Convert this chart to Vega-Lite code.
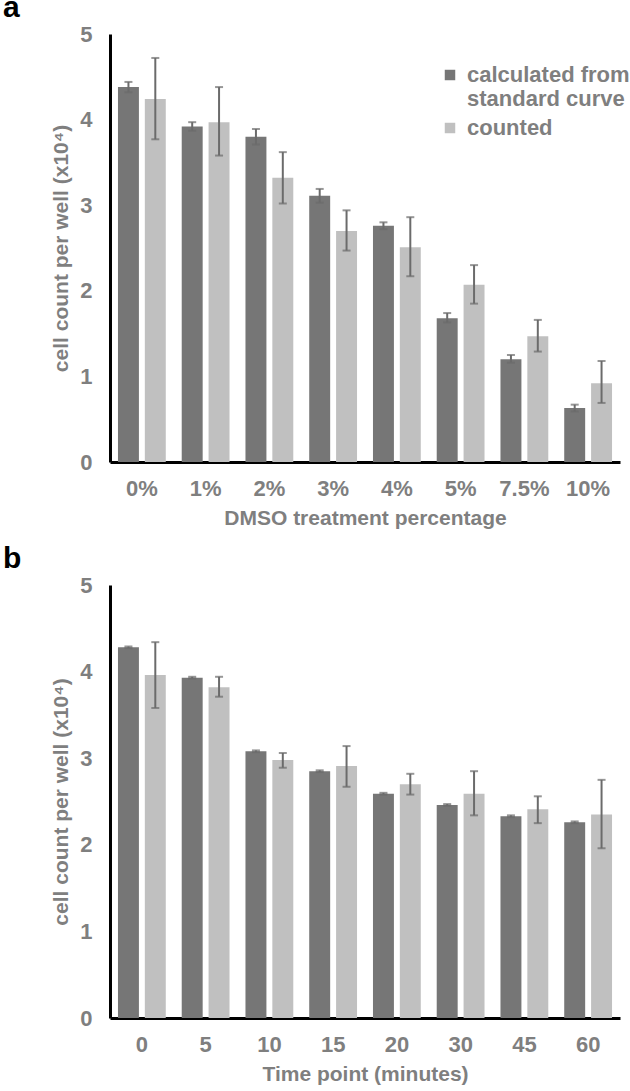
{
  "$schema": "https://vega.github.io/schema/vega-lite/v6.json",
  "background": "white",
  "padding": {"left": 3, "top": -7, "right": 5, "bottom": 3},
  "datasets": {
    "dmso": [
      {"cat": "0%", "series": "calculated from standard curve", "value": 4.38, "lo": 4.32, "hi": 4.44},
      {"cat": "0%", "series": "counted", "value": 4.24, "lo": 3.77, "hi": 4.72},
      {"cat": "1%", "series": "calculated from standard curve", "value": 3.92, "lo": 3.87, "hi": 3.97},
      {"cat": "1%", "series": "counted", "value": 3.97, "lo": 3.58, "hi": 4.38},
      {"cat": "2%", "series": "calculated from standard curve", "value": 3.8, "lo": 3.71, "hi": 3.89},
      {"cat": "2%", "series": "counted", "value": 3.32, "lo": 3.02, "hi": 3.62},
      {"cat": "3%", "series": "calculated from standard curve", "value": 3.11, "lo": 3.03, "hi": 3.19},
      {"cat": "3%", "series": "counted", "value": 2.7, "lo": 2.47, "hi": 2.94},
      {"cat": "4%", "series": "calculated from standard curve", "value": 2.76, "lo": 2.72, "hi": 2.8},
      {"cat": "4%", "series": "counted", "value": 2.51, "lo": 2.17, "hi": 2.86},
      {"cat": "5%", "series": "calculated from standard curve", "value": 1.68, "lo": 1.63, "hi": 1.74},
      {"cat": "5%", "series": "counted", "value": 2.07, "lo": 1.85, "hi": 2.3},
      {"cat": "7.5%", "series": "calculated from standard curve", "value": 1.2, "lo": 1.16, "hi": 1.25},
      {"cat": "7.5%", "series": "counted", "value": 1.47, "lo": 1.29, "hi": 1.66},
      {"cat": "10%", "series": "calculated from standard curve", "value": 0.63, "lo": 0.59, "hi": 0.67},
      {"cat": "10%", "series": "counted", "value": 0.92, "lo": 0.69, "hi": 1.18}
    ],
    "time": [
      {"cat": "0", "series": "calculated from standard curve", "value": 4.28, "lo": 4.27, "hi": 4.29},
      {"cat": "0", "series": "counted", "value": 3.96, "lo": 3.58, "hi": 4.34},
      {"cat": "5", "series": "calculated from standard curve", "value": 3.93, "lo": 3.92, "hi": 3.94},
      {"cat": "5", "series": "counted", "value": 3.82, "lo": 3.71, "hi": 3.94},
      {"cat": "10", "series": "calculated from standard curve", "value": 3.08, "lo": 3.07, "hi": 3.09},
      {"cat": "10", "series": "counted", "value": 2.98, "lo": 2.89, "hi": 3.06},
      {"cat": "15", "series": "calculated from standard curve", "value": 2.85, "lo": 2.84, "hi": 2.86},
      {"cat": "15", "series": "counted", "value": 2.91, "lo": 2.67, "hi": 3.14},
      {"cat": "20", "series": "calculated from standard curve", "value": 2.59, "lo": 2.58, "hi": 2.6},
      {"cat": "20", "series": "counted", "value": 2.7, "lo": 2.58, "hi": 2.82},
      {"cat": "30", "series": "calculated from standard curve", "value": 2.46, "lo": 2.45, "hi": 2.47},
      {"cat": "30", "series": "counted", "value": 2.59, "lo": 2.34, "hi": 2.85},
      {"cat": "45", "series": "calculated from standard curve", "value": 2.33, "lo": 2.32, "hi": 2.34},
      {"cat": "45", "series": "counted", "value": 2.41, "lo": 2.25, "hi": 2.56},
      {"cat": "60", "series": "calculated from standard curve", "value": 2.26, "lo": 2.25, "hi": 2.27},
      {"cat": "60", "series": "counted", "value": 2.35, "lo": 1.96, "hi": 2.75}
    ]
  },
  "vconcat": [
    {
      "title": {"text": "a", "anchor": "start", "frame": "group", "dx": -107, "fontSize": 30, "fontWeight": "bold", "color": "black", "font": "Liberation Sans", "offset": 0},
      "width": 510,
      "height": 428,
      "data": {"name": "dmso"},
      "encoding": {
        "x": {"field": "cat", "type": "nominal", "sort": null,
          "scale": {"paddingInner": 0.25, "paddingOuter": 0.125},
          "axis": {"title": "DMSO treatment percentage", "labelAngle": 0, "ticks": false, "labelPadding": 16, "titlePadding": 8}},
        "xOffset": {"field": "series", "type": "nominal", "sort": null, "scale": {"paddingInner": 0.22}}
      },
      "layer": [
        {"mark": {"type": "bar"},
         "encoding": {
           "y": {"field": "value", "type": "quantitative", "scale": {"domain": [0, 5]},
             "axis": {"title": "cell count per well (x10⁴)", "values": [0, 1, 2, 3, 4, 5], "format": "d", "ticks": false, "labelPadding": 18, "titlePadding": 8}},
           "color": {"field": "series", "type": "nominal", "sort": null,
             "scale": {"domain": ["calculated from standard curve", "counted"], "range": ["#767676", "#c0c0c0"]},
             "legend": {"title": null, "orient": "none", "legendX": 329, "legendY": 30, "padding": 0, "symbolType": "square", "symbolSize": 110, "symbolStrokeWidth": 0, "labelOffset": 6, "labelFontSize": 22, "labelLimit": 400, "rowPadding": 7,
               "labelExpr": "datum.value == 'calculated from standard curve' ? ['calculated from', 'standard curve'] : datum.label"}}
         }},
        {"mark": {"type": "rule", "color": "#6b6b6b", "strokeWidth": 2},
         "encoding": {"y": {"field": "lo", "type": "quantitative"}, "y2": {"field": "hi"}}},
        {"mark": {"type": "tick", "color": "#6b6b6b", "thickness": 2, "size": 8},
         "encoding": {"y": {"field": "hi", "type": "quantitative"}}},
        {"mark": {"type": "tick", "color": "#6b6b6b", "thickness": 2, "size": 8},
         "encoding": {"y": {"field": "lo", "type": "quantitative"}}}
      ]
    },
    {
      "title": {"text": "b", "anchor": "start", "frame": "group", "dx": -107, "fontSize": 30, "fontWeight": "bold", "color": "black", "font": "Liberation Sans", "offset": 0},
      "width": 510,
      "height": 433,
      "data": {"name": "time"},
      "encoding": {
        "x": {"field": "cat", "type": "nominal", "sort": null,
          "scale": {"paddingInner": 0.25, "paddingOuter": 0.125},
          "axis": {"title": "Time point (minutes)", "labelAngle": 0, "ticks": false, "labelPadding": 16, "titlePadding": 8}},
        "xOffset": {"field": "series", "type": "nominal", "sort": null, "scale": {"paddingInner": 0.22}}
      },
      "layer": [
        {"mark": {"type": "bar"},
         "encoding": {
           "y": {"field": "value", "type": "quantitative", "scale": {"domain": [0, 5]},
             "axis": {"title": "cell count per well (x10⁴)", "values": [0, 1, 2, 3, 4, 5], "format": "d", "ticks": false, "labelPadding": 18, "titlePadding": 8}},
           "color": {"field": "series", "type": "nominal", "sort": null,
             "scale": {"domain": ["calculated from standard curve", "counted"], "range": ["#767676", "#c0c0c0"]},
             "legend": null}
         }},
        {"mark": {"type": "rule", "color": "#6b6b6b", "strokeWidth": 2},
         "encoding": {"y": {"field": "lo", "type": "quantitative"}, "y2": {"field": "hi"}}},
        {"mark": {"type": "tick", "color": "#6b6b6b", "thickness": 2, "size": 8},
         "encoding": {"y": {"field": "hi", "type": "quantitative"}}},
        {"mark": {"type": "tick", "color": "#6b6b6b", "thickness": 2, "size": 8},
         "encoding": {"y": {"field": "lo", "type": "quantitative"}}}
      ]
    }
  ],
  "spacing": 16,
  "resolve": {"scale": {"color": "independent"}},
  "config": {
    "view": {"stroke": null},
    "font": "Liberation Sans",
    "axis": {"grid": false, "domainColor": "black", "domainWidth": 3, "labelFont": "Liberation Sans", "labelFontSize": 22, "labelFontWeight": "bold", "labelColor": "#7f7f7f", "titleFont": "Liberation Sans", "titleFontSize": 21, "titleFontWeight": "bold", "titleColor": "#7f7f7f"},
    "legend": {"labelFont": "Liberation Sans", "labelFontWeight": "bold", "labelColor": "#7f7f7f"}
  }
}
